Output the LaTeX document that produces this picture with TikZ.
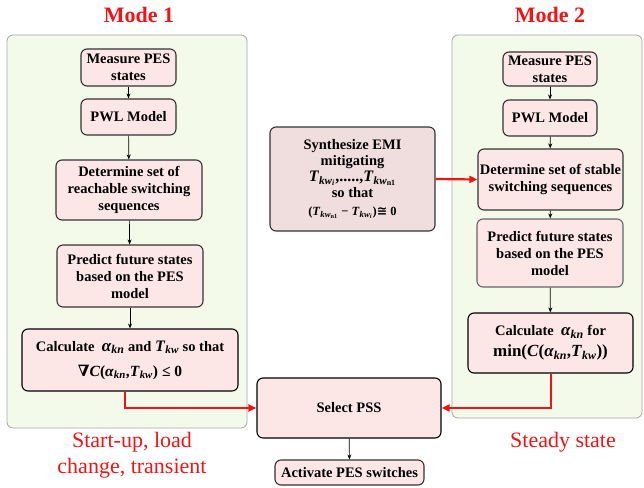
\documentclass[tikz,border=0pt]{standalone}
\usepackage{amsmath}
\usepackage{fontspec}
\setmainfont{Liberation Serif}
\newfontfamily\symf{DejaVu Serif}
\newfontfamily\symsans{DejaVu Sans}
\usetikzlibrary{arrows.meta}
\definecolor{panel}{HTML}{F4FAEA}
\definecolor{boxfill}{HTML}{FCE6E6}
\definecolor{synfill}{HTML}{F0DDDD}
\definecolor{redc}{HTML}{F21414}
\newcommand{\bi}[1]{\textbf{\textit{#1}}}
\newcommand{\bu}[1]{\textbf{#1}}
\newcommand{\akn}{\bi{α}_{\bi{kn}}}
\newcommand{\Tkw}{\bi{T}_{\bi{kw}}}
\begin{document}
\begin{tikzpicture}[x=1pt,y=-1pt,
  panelbox/.style={draw=black!35,fill=panel,rounded corners=6pt,line width=0.8pt},
  stepbox/.style={draw=black!80,fill=boxfill,rounded corners=6pt,line width=1.1pt,align=center,font=\bfseries\fontsize{14.5}{17}\selectfont,inner sep=1pt},
  arr/.style={-{Stealth[length=5pt,width=4pt]},line width=0.7pt},
  redarr/.style={-{Triangle[length=8pt,width=7pt]},line width=2.2pt,draw=redc,color=redc},
  title/.style={text=redc,font=\bfseries\fontsize{22}{24}\selectfont},
  modelabel/.style={text=redc,font=\fontsize{22}{26}\selectfont,align=center}]
\useasboundingbox (0,0) rectangle (644,487);
% panels
\draw[panelbox] (7,35) rectangle (247,428);
\draw[panelbox] (452,35) rectangle (642,418);
% titles
\node[title] (t1) at (139,15) {Mode 1};
\node[title] (t2) at (550,15) {Mode 2};
% left column
\node[stepbox,minimum width=95pt,minimum height=37pt] (m1) at (128.5,67.5) {Measure PES\\states};
\node[stepbox,minimum width=95pt,minimum height=36pt] (p1) at (128.5,117) {PWL Model};
\node[stepbox,minimum width=146pt,minimum height=60pt] (d1) at (129,190) {Determine set of\\reachable switching\\sequences};
\node[stepbox,minimum width=146pt,minimum height=62pt] (f1) at (130,276) {Predict future states\\based on the PES\\model};
\node[stepbox,draw=black,minimum width=216pt,minimum height=62pt] (c1) at (130,360) {Calculate \ {\fontsize{17}{17}\selectfont$\akn$} and {\fontsize{16}{17}\selectfont$\Tkw$} so that\\[8pt] {\fontsize{15.5}{17}\selectfont$\text{\symf\bfseries ∇}\bi{C}\bu{(}\akn\bu{,}\Tkw\bu{)}\ \bu{≤}\ \bu{0}$}};
% right column
\node[stepbox,minimum width=94pt,minimum height=34pt] (m2) at (550,69) {Measure PES\\states};
\node[stepbox,minimum width=94pt,minimum height=36pt] (p2) at (550,118) {PWL Model};
\node[stepbox,minimum width=145pt,minimum height=61pt] (d2) at (550.5,179.5) {Determine set of stable\\switching sequences};
\node[stepbox,draw=black!60,minimum width=146pt,minimum height=68pt] (f2) at (550,253) {Predict future states\\based on the PES\\model};
\node[stepbox,draw=black,minimum width=165pt,minimum height=60pt] (c2) at (550.5,343) {Calculate \ {\fontsize{17}{17}\selectfont$\akn$} for\\[4pt] {\fontsize{17}{18}\selectfont$\bu{min(}\bi{C}\bu{(}\akn\bu{,}\Tkw\bu{))}$}};
% middle
\node[stepbox,fill=synfill,minimum width=165pt,minimum height=104pt] (syn) at (352.5,179) {Synthesize EMI\\[-1pt]mitigating\\[-1pt] {\fontsize{16}{17}\selectfont$\bi{T}_{\bi{kw}_{\bi{i}}}\bu{,.....,}\bi{T}_{\bi{kw}_{\bu{n1}}}$}\\[-1pt]so that\\[1pt] {\fontsize{12.5}{13}\selectfont$\bu{(}\bi{T}_{\bi{kw}_{\bu{n1}}}\ \bu{−}\ \bi{T}_{\bi{kw}_{\bi{i}}}\bu{)}\text{\symsans\bfseries ≅}\ \bu{0}$}};
\node[stepbox,draw=black,minimum width=184pt,minimum height=60pt] (sel) at (349,408) {Select PSS};
\node[stepbox,minimum width=149pt,minimum height=25pt] (act) at (349.5,472.5) {Activate PES switches};
% labels
\node[modelabel] (l1) at (132,455) {Start-up, load\\change, transient};
\node[modelabel] (l2) at (563,442) {Steady state};
% black arrows
\draw[arr] (m1) -- (p1);
\draw[arr] (p1) -- (d1);
\draw[arr] (d1) -- (f1);
\draw[arr] (f1) -- (c1);
\draw[arr] (m2) -- (p2);
\draw[arr] (p2) -- (d2);
\draw[arr] (d2) -- (f2);
\draw[arr] (f2) -- (c2);
\draw[arr] (sel) -- (act);
% red arrows
\draw[redarr] ([xshift=-5pt]c1.south) |- (sel.west);
\draw[redarr] ([xshift=0.5pt]c2.south) |- (sel.east);
\draw[redarr] (syn.east) -- (d2.west);
\end{tikzpicture}
\end{document}
